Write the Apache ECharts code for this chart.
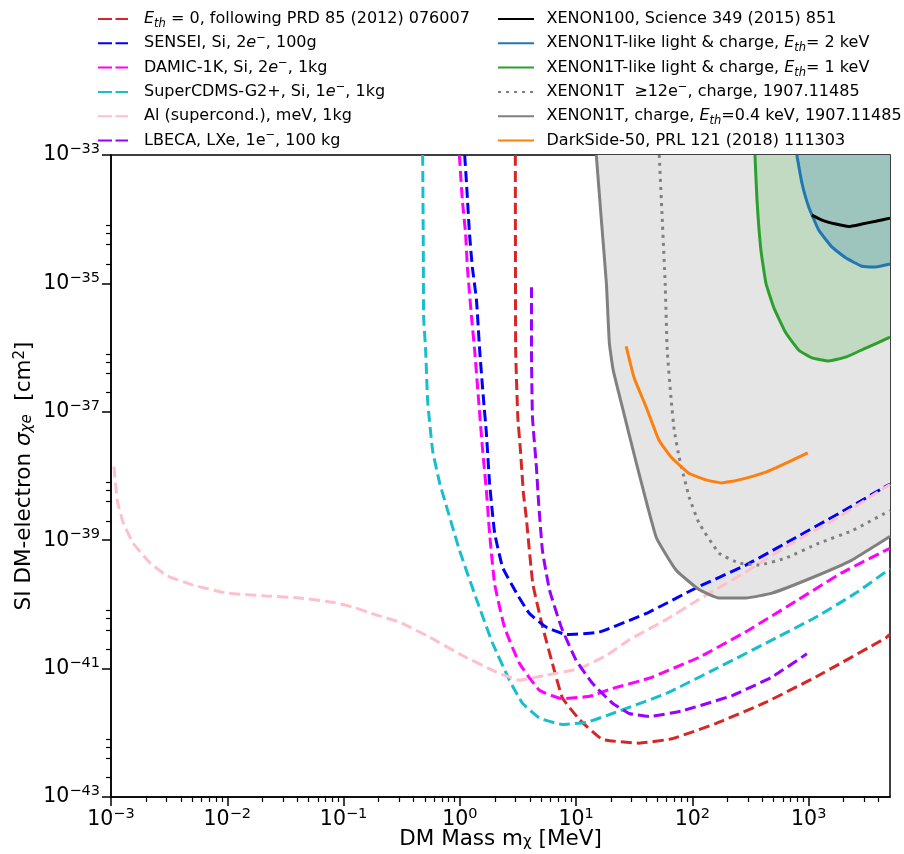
<!DOCTYPE html>
<html><head><meta charset="utf-8">
<script src="https://cdn.jsdelivr.net/npm/echarts@6/dist/echarts.min.js"></script>
<style>html,body{margin:0;padding:0;background:#fff}#c{width:904px;height:854px}</style>
</head><body><div id="c"></div><script>
// ---------------- data (mass in MeV, cross section in cm^2) ----------------
const ethMass  = [3.0, 3.02, 3.15, 3.32, 3.52, 3.72, 4.24, 5.16, 6.25, 7.62, 10.7, 16.8, 34.9, 67, 160, 430, 1150, 4600, 5000];
const ethSigma = [1e-33, 9.1e-37, 8.3e-38, 2.5e-38, 5.4e-39, 2.3e-39, 2.1e-40, 4.4e-41, 1.2e-41, 3.5e-42, 1.6e-42, 7.9e-43, 6.9e-43, 8.1e-43, 1.4e-42, 3.0e-42, 7.4e-42, 3.0e-41, 3.4e-41];

const senseiMass  = [1.10, 1.14, 1.21, 1.28, 1.39, 1.48, 1.60, 1.69, 1.80, 1.99, 2.33, 3.07, 3.97, 5.55, 8.24, 15.8, 42.5, 107, 288, 775, 2080, 5000];
const senseiSigma = [1e-33, 3.7e-34, 6.0e-35, 1.8e-35, 5.5e-36, 9.1e-37, 1.5e-37, 4.7e-38, 7.8e-39, 1.3e-39, 3.8e-40, 1.5e-40, 7.2e-41, 4.4e-41, 3.4e-41, 3.7e-41, 7.6e-41, 1.8e-40, 4.1e-40, 1.1e-39, 3.0e-39, 7.5e-39];

const damicMass  = [0.99, 1.05, 1.12, 1.16, 1.26, 1.34, 1.45, 1.57, 1.69, 1.80, 1.99, 2.42, 3.26, 4.83, 7.60, 13.0, 20.5, 42.5, 114, 306, 822, 1920, 5000];
const damicSigma = [1e-33, 2.0e-34, 6.0e-35, 1.8e-35, 3.0e-36, 9.1e-37, 1.5e-37, 2.5e-38, 6.0e-39, 1.3e-39, 2.1e-40, 4.4e-41, 1.2e-41, 4.6e-42, 3.4e-42, 3.7e-42, 4.9e-42, 7.1e-42, 1.5e-41, 4.0e-41, 1.2e-40, 3.1e-40, 7.5e-40];

const cdmsMass  = [0.479, 0.485, 0.488, 0.508, 0.528, 0.583, 0.670, 0.740, 0.994, 1.39, 1.91, 2.67, 3.45, 4.83, 7.60, 12.2, 20.5, 59.4, 160, 430, 1150, 2540, 5000];
const cdmsSigma = [1e-33, 3.3e-35, 3.0e-36, 9.1e-37, 1.5e-37, 2.5e-38, 7.8e-39, 4.2e-39, 6.9e-40, 1.2e-40, 2.5e-41, 6.6e-42, 2.9e-42, 1.7e-42, 1.35e-42, 1.45e-42, 2.0e-42, 4.1e-42, 1.0e-41, 2.5e-41, 6.3e-41, 1.5e-40, 3.6e-40];

const alMass  = [1.06e-3, 1.13e-3, 1.27e-3, 1.55e-3, 2.17e-3, 3.03e-3, 5.07e-3, 9.93e-3, 2.19e-2, 4.2e-2, 8.07e-2, 0.120, 0.193, 0.303, 0.549, 1.05, 2.07, 3.26, 5.54, 10.6, 18.2, 28.6, 59.4, 114, 288, 716, 1810, 5000];
const alSigma = [1.4e-38, 4.2e-39, 1.9e-39, 9.0e-40, 4.4e-40, 2.8e-40, 2.0e-40, 1.5e-40, 1.35e-40, 1.26e-40, 1.08e-40, 9.1e-41, 6.8e-41, 5.3e-41, 3.1e-41, 1.6e-41, 8.8e-42, 6.6e-42, 7.9e-42, 1.0e-41, 1.6e-41, 2.8e-41, 5.8e-41, 1.2e-40, 3.2e-40, 9.0e-40, 2.3e-39, 7.4e-39];

const lbecaMass  = [4.13, 4.13, 4.21, 4.55, 4.74, 5.13, 5.89, 7.46, 10.0, 13.8, 20.5, 28.6, 42.5, 81.6, 219, 483, 964];
const lbecaSigma = [8.7e-36, 9.1e-37, 8.3e-38, 1.4e-38, 4.2e-39, 6.9e-40, 1.7e-40, 4.4e-41, 1.35e-41, 5.9e-42, 2.9e-42, 2.0e-42, 1.8e-42, 2.2e-42, 3.8e-42, 7.4e-42, 1.7e-41];

const x100Mass  = [1065, 1300, 1710, 2210, 2860, 3770, 5000];
const x100Sigma = [1.16e-34, 9.7e-35, 8.4e-35, 7.7e-35, 8.4e-35, 9.3e-35, 1.04e-34];

const lc2Mass  = [790, 873, 1000, 1222, 1580, 2080, 2860, 3770, 5000];
const lc2Sigma = [1e-33, 3.7e-34, 1.55e-34, 6.7e-35, 3.7e-35, 2.5e-35, 1.85e-35, 1.8e-35, 2.0e-35];

const lc1Mass  = [345, 359, 388, 429, 501, 635, 822, 1065, 1490, 2080, 3090, 5000];
const lc1Sigma = [1e-33, 2.0e-34, 3.3e-35, 1.0e-35, 4.2e-36, 1.7e-36, 9.1e-37, 6.9e-37, 6.2e-37, 7.1e-37, 9.8e-37, 1.45e-36];

const x12Mass  = [51.8, 54.9, 58.3, 60.7, 65.7, 69.7, 76.9, 93.7, 114, 169, 252, 374, 638, 1225, 2350, 5000];
const x12Sigma = [1e-33, 1.08e-34, 1.0e-35, 9.1e-37, 1.5e-37, 5.2e-38, 1.95e-38, 4.7e-39, 1.85e-39, 6.3e-40, 4.4e-40, 4.1e-40, 5.3e-40, 9.0e-40, 1.4e-39, 2.9e-39];

const x1tMass  = [14.9, 16.4, 18.2, 19.3, 20.8, 24.9, 32.9, 48.9, 72.5, 114, 169, 289, 483, 1065, 2350, 5000];
const x1tSigma = [1e-33, 1.08e-34, 1.0e-35, 1.17e-36, 4.5e-37, 1.2e-37, 1.6e-38, 1.1e-39, 3.4e-40, 1.7e-40, 1.26e-40, 1.26e-40, 1.5e-40, 2.6e-40, 4.9e-40, 1.15e-39];

const ds50Mass  = [26.9, 31.5, 39.9, 51.6, 66.7, 93.3, 131, 179, 251, 428, 674, 981];
const ds50Sigma = [1.05e-36, 3.4e-37, 1.2e-37, 3.6e-38, 1.9e-38, 1.1e-38, 8.7e-39, 7.8e-39, 8.7e-39, 1.15e-38, 1.66e-38, 2.3e-38];

const xMajorTicks = [1e-3, 1e-2, 1e-1, 1, 10, 100, 1000];
const yMajorTicks = [1e-43, 1e-41, 1e-39, 1e-37, 1e-35, 1e-33];
const xMinorMultipliers = [2, 3, 4, 5, 6, 7, 8, 9];
const yMinorMultipliers = [2, 4, 6, 8];
const yMinorDecades = [-43, -41, -39, -37, -35];

// ---------------- helpers ----------------
const FONT = 'DejaVu Sans';
// ECharts rounds log extents to 20 decimals, so the cross section is plotted in units of 1e-43 cm^2
const SIGMA_UNIT_EXP = -43;
const SIGMA_UNIT = 1e-43;
function toUnit(s) { return s / SIGMA_UNIT; }
function pairs(xs, ys) { return xs.map((x, i) => [x, toUnit(ys[i])]); }
const xMinorTicks = [];
xMajorTicks.forEach(d => xMinorMultipliers.forEach(k => { const v = k * d; if (v < 5000) xMinorTicks.push(v); }));
const yMinorTicks = [];
yMinorDecades.forEach(e => yMinorMultipliers.forEach(k => yMinorTicks.push(toUnit(k * Math.pow(10, e)))));

function supText(e) { return (e < 0 ? '\u2212' : '') + Math.abs(e); }
function xLabel(v) { return '{b|10}{sup|' + supText(Math.round(Math.log10(v))) + '}'; }
function yLabel(v) { return '{b|10}{sup|' + supText(Math.round(Math.log10(v)) + SIGMA_UNIT_EXP) + '}'; }
const tickRich = {
  b: { fontFamily: FONT, fontSize: 20.5, lineHeight: 26, color: '#000' },
  sup: { fontFamily: FONT, fontSize: 14.5, lineHeight: 14, verticalAlign: 'top', color: '#000' }
};
const legRich = {
  n: { fontFamily: FONT, fontSize: 16, lineHeight: 22, color: '#000' },
  i: { fontFamily: FONT, fontSize: 16, lineHeight: 22, fontStyle: 'italic', color: '#000' },
  sub: { fontFamily: FONT, fontSize: 11.5, lineHeight: 14, fontStyle: 'italic', verticalAlign: 'bottom', color: '#000' },
  sup: { fontFamily: FONT, fontSize: 11.5, lineHeight: 12, verticalAlign: 'top', color: '#000' }
};
const legendText = {
  'Eth0': '{i|E}{sub|th}{n| = 0, following PRD 85 (2012) 076007}',
  'SENSEI': '{n|SENSEI, Si, 2}{i|e}{sup|\u2212}{n|, 100g}',
  'DAMIC': '{n|DAMIC-1K, Si, 2}{i|e}{sup|\u2212}{n|, 1kg}',
  'CDMS': '{n|SuperCDMS-G2+, Si, 1}{i|e}{sup|\u2212}{n|, 1kg}',
  'Al': '{n|Al (supercond.), meV, 1kg}',
  'LBECA': '{n|LBECA, LXe, 1e}{sup|\u2212}{n|, 100 kg}',
  'X100': '{n|XENON100, Science 349 (2015) 851}',
  'LC2': '{n|XENON1T-like light & charge, }{i|E}{sub|th}{n|= 2 keV}',
  'LC1': '{n|XENON1T-like light & charge, }{i|E}{sub|th}{n|= 1 keV}',
  'X12': '{n|XENON1T  \u226512e}{sup|\u2212}{n|, charge, 1907.11485}',
  'X1T': '{n|XENON1T, charge, }{i|E}{sub|th}{n|=0.4 keV, 1907.11485}',
  'DS50': '{n|DarkSide-50, PRL 121 (2018) 111303}'
};

const DASH = [11, 5];
const SMOOTH = 0.12;
function lineSeries(name, xs, ys, color, type, z) {
  return {
    name: name, type: 'line', data: pairs(xs, ys), symbol: 'none', smooth: SMOOTH,
    lineStyle: { color: color, width: 3, type: type, cap: 'butt' },
    itemStyle: { color: color }, z: z || 3, silent: true, clip: true
  };
}
function fillSeries(name, xs, ys, color) {
  return {
    name: name, type: 'line', data: pairs(xs, ys), symbol: 'none', smooth: SMOOTH,
    lineStyle: { width: 0, opacity: 0 },
    areaStyle: { color: color, opacity: 1, origin: 'end' },
    z: 1, silent: true, clip: true
  };
}

const series = [
  fillSeries('fillX1T', x1tMass, x1tSigma, '#e5e5e5'),
  fillSeries('fillLC1', lc1Mass, lc1Sigma, '#c2dac2'),
  fillSeries('fillLC2', lc2Mass, lc2Sigma, '#9dc4bd'),
  lineSeries('Eth0', ethMass, ethSigma, '#d62728', DASH),
  lineSeries('SENSEI', senseiMass, senseiSigma, '#0000ff', DASH),
  lineSeries('DAMIC', damicMass, damicSigma, '#ff00ff', DASH),
  lineSeries('CDMS', cdmsMass, cdmsSigma, '#17becf', DASH),
  lineSeries('Al', alMass, alSigma, '#ffc0cb', DASH),
  lineSeries('LBECA', lbecaMass, lbecaSigma, '#9900ff', DASH),
  lineSeries('X100', x100Mass, x100Sigma, '#000000', 'solid', 4),
  lineSeries('LC2', lc2Mass, lc2Sigma, '#1f77b4', 'solid'),
  lineSeries('LC1', lc1Mass, lc1Sigma, '#2ca02c', 'solid'),
  lineSeries('X12', x12Mass, x12Sigma, '#808080', [3, 5]),
  lineSeries('X1T', x1tMass, x1tSigma, '#808080', 'solid'),
  lineSeries('DS50', ds50Mass, ds50Sigma, '#ff7f0e', 'solid')
];

function legendItems(names, dashed) {
  return names.map(n => dashed.indexOf(n) >= 0 ? { name: n, lineStyle: { type: [14, 3.5] } } : { name: n });
}
const legendBase = {
  orient: 'vertical', top: 8, itemHeight: 14, itemGap: 2.3, padding: 0,
  selectedMode: false,
  itemStyle: { opacity: 0 },
  formatter: n => legendText[n]
};

const option = {
  animation: false,
  backgroundColor: '#fff',
  grid: { left: 111, right: 14, top: 155, bottom: 57, outerBoundsMode: 'none', containLabel: false,
          show: true, borderColor: '#000', borderWidth: 1.5, backgroundColor: 'transparent' },
  legend: [
    Object.assign({}, legendBase, {
      left: 97, itemWidth: 30,
      data: legendItems(['Eth0', 'SENSEI', 'DAMIC', 'CDMS', 'Al', 'LBECA'], ['Eth0', 'SENSEI', 'DAMIC', 'CDMS', 'Al', 'LBECA']),
      textStyle: { fontFamily: FONT, fontSize: 16, lineHeight: 22, color: '#000', padding: [0, 0, 0, 11], rich: legRich }
    }),
    Object.assign({}, legendBase, {
      left: 497, itemWidth: 36,
      data: legendItems(['X100', 'LC2', 'LC1', 'X12', 'X1T', 'DS50'], []),
      textStyle: { fontFamily: FONT, fontSize: 16, lineHeight: 22, color: '#000', padding: [0, 0, 0, 7.5], rich: legRich }
    })
  ],
  xAxis: [
    {
      type: 'log', logBase: 10, min: 1e-3, max: 5000, gridIndex: 0, position: 'bottom',
      name: 'DM Mass m{sub|\u03c7} [MeV]', nameLocation: 'middle', nameGap: 31, nameMoveOverlap: false,
      nameTextStyle: { fontFamily: FONT, fontSize: 21.5, color: '#000',
        rich: { sub: { fontFamily: FONT, fontSize: 15, lineHeight: 14, verticalAlign: 'bottom', color: '#000' } } },
      axisLine: { show: true, onZero: false, lineStyle: { color: '#000', width: 1.5 } },
      axisTick: { show: true, inside: false, length: 9, lineStyle: { color: '#000', width: 1.5 }, customValues: xMajorTicks },
      axisLabel: { show: true, margin: 10, customValues: xMajorTicks, formatter: xLabel, rich: tickRich, fontFamily: FONT },
      splitLine: { show: false }, minorTick: { show: false }
    },
    {
      type: 'log', logBase: 10, min: 1e-3, max: 5000, gridIndex: 0, position: 'bottom',
      axisLine: { show: false, onZero: false },
      axisTick: { show: true, inside: false, length: 5, lineStyle: { color: '#000', width: 1.2 }, customValues: xMinorTicks },
      axisLabel: { show: false }, splitLine: { show: false }
    }
  ],
  yAxis: [
    {
      type: 'log', logBase: 10, min: toUnit(1e-43), max: toUnit(1e-33), gridIndex: 0, position: 'left',
      name: 'SI DM-electron {i|\u03c3}{sub|\u03c7e}  [cm{sup|2}]', nameLocation: 'middle', nameGap: 76, nameRotate: 90,
      nameMoveOverlap: false,
      nameTextStyle: { fontFamily: FONT, fontSize: 21.5, color: '#000',
        rich: {
          i: { fontFamily: FONT, fontSize: 21.5, fontStyle: 'italic', color: '#000' },
          sub: { fontFamily: FONT, fontSize: 15, lineHeight: 14, fontStyle: 'italic', verticalAlign: 'bottom', color: '#000' },
          sup: { fontFamily: FONT, fontSize: 15, lineHeight: 14, verticalAlign: 'top', color: '#000' }
        } },
      axisLine: { show: true, onZero: false, lineStyle: { color: '#000', width: 1.5 } },
      axisTick: { show: true, inside: false, length: 9, lineStyle: { color: '#000', width: 1.5 }, customValues: yMajorTicks.map(toUnit) },
      axisLabel: { show: true, margin: 11, customValues: yMajorTicks.map(toUnit), formatter: yLabel, rich: tickRich, fontFamily: FONT },
      splitLine: { show: false }, minorTick: { show: false }
    },
    {
      type: 'log', logBase: 10, min: toUnit(1e-43), max: toUnit(1e-33), gridIndex: 0, position: 'left',
      axisLine: { show: false, onZero: false },
      axisTick: { show: true, inside: false, length: 5, lineStyle: { color: '#000', width: 1.2 }, customValues: yMinorTicks },
      axisLabel: { show: false }, splitLine: { show: false }
    }
  ],
  series: series
};

const chart = echarts.init(document.getElementById('c'), null, { renderer: 'canvas' });
chart.setOption(option);
</script></body></html>
